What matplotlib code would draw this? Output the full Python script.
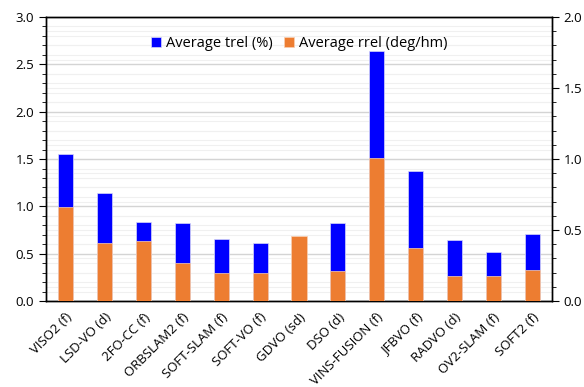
import numpy as np
import matplotlib.pyplot as plt
from matplotlib.ticker import MultipleLocator

plt.rcParams['font.family'] = ['Open Sans', 'DejaVu Sans']

methods = ["VISO2 (f)", "LSD-VO (d)", "2FO-CC (f)", "ORBSLAM2 (f)", "SOFT-SLAM (f)",
           "SOFT-VO (f)", "GDVO (sd)", "DSO (d)", "VINS-FUSION (f)", "JFBVO (f)",
           "RADVO (d)", "OV2-SLAM (f)", "SOFT2 (f)"]
# trel in %, left axis (GDVO hidden behind orange bar)
trel = [1.55, 1.14, 0.84, 0.82, 0.66, 0.61, np.nan, 0.82, 2.64, 1.37, 0.64, 0.52, 0.71]
# rrel in deg/hm, right axis
rrel = [0.66, 0.41, 0.42, 0.27, 0.20, 0.20, 0.46, 0.21, 1.01, 0.375, 0.18, 0.18, 0.22]

fig = plt.figure(figsize=(5.84, 3.87), dpi=100)
ax = fig.add_axes([0.079, 0.222, 0.866, 0.734])
ax2 = ax.twinx()

x = np.arange(len(methods))
w = 0.39

ax.bar(x, trel, width=w, color="#0000FF", edgecolor="#D8D8F8", linewidth=0.5,
       label="Average trel (%)", zorder=3)
ax2.bar(x, rrel, width=w, color="#ED7D31", edgecolor="#F8D0B4", linewidth=0.5,
        label="Average rrel (deg/hm)", zorder=3)

ax.set_xlim(-0.5, len(methods) - 0.5)
ax.set_ylim(0, 3.0)
ax2.set_ylim(0, 2.0)

ax.yaxis.set_major_locator(MultipleLocator(0.5))
ax.yaxis.set_minor_locator(MultipleLocator(0.1))
ax2.yaxis.set_major_locator(MultipleLocator(0.5))
ax2.yaxis.set_minor_locator(MultipleLocator(0.1))
ax.yaxis.set_major_formatter(plt.FormatStrFormatter('%.1f'))
ax2.yaxis.set_major_formatter(plt.FormatStrFormatter('%.1f'))

ax.grid(axis='y', which='major', color="#D4D4D4", linewidth=1.0, zorder=0)
ax.grid(axis='y', which='minor', color="#F0F0F0", linewidth=0.8, zorder=0)
# secondary-axis minor gridlines, drawn on the primary axes so they stay behind the bars
ratio = 3.0 / 2.0
for v in np.arange(0.1, 2.0, 0.1):
    ax.axhline(v * ratio, color="#F0F0F0", linewidth=0.8, zorder=0)
ax.set_axisbelow(True)

ax.set_xticks(x)
ax.set_xticklabels(methods, rotation=45, ha='right', rotation_mode='anchor', fontsize=9.5)
ax.tick_params(axis='x', length=0, pad=7)
ax.tick_params(axis='y', which='major', length=5, labelsize=9.5, direction='out', colors='black')
ax.tick_params(axis='y', which='minor', length=3)
ax2.tick_params(axis='y', which='major', length=5, labelsize=9.5, direction='out')
ax2.tick_params(axis='y', which='minor', length=3)

for a in (ax, ax2):
    for s in a.spines.values():
        s.set_color('black')
        s.set_linewidth(1.0)

h1, l1 = ax.get_legend_handles_labels()
h2, l2 = ax2.get_legend_handles_labels()
ax2.legend(h1 + h2, l1 + l2, loc='upper center', bbox_to_anchor=(0.5, 0.98), ncol=2,
           frameon=False, fontsize=10.5, handlelength=0.7, handleheight=0.7,
           columnspacing=0.8, handletextpad=0.3)

fig.savefig("out.png", dpi=100)
